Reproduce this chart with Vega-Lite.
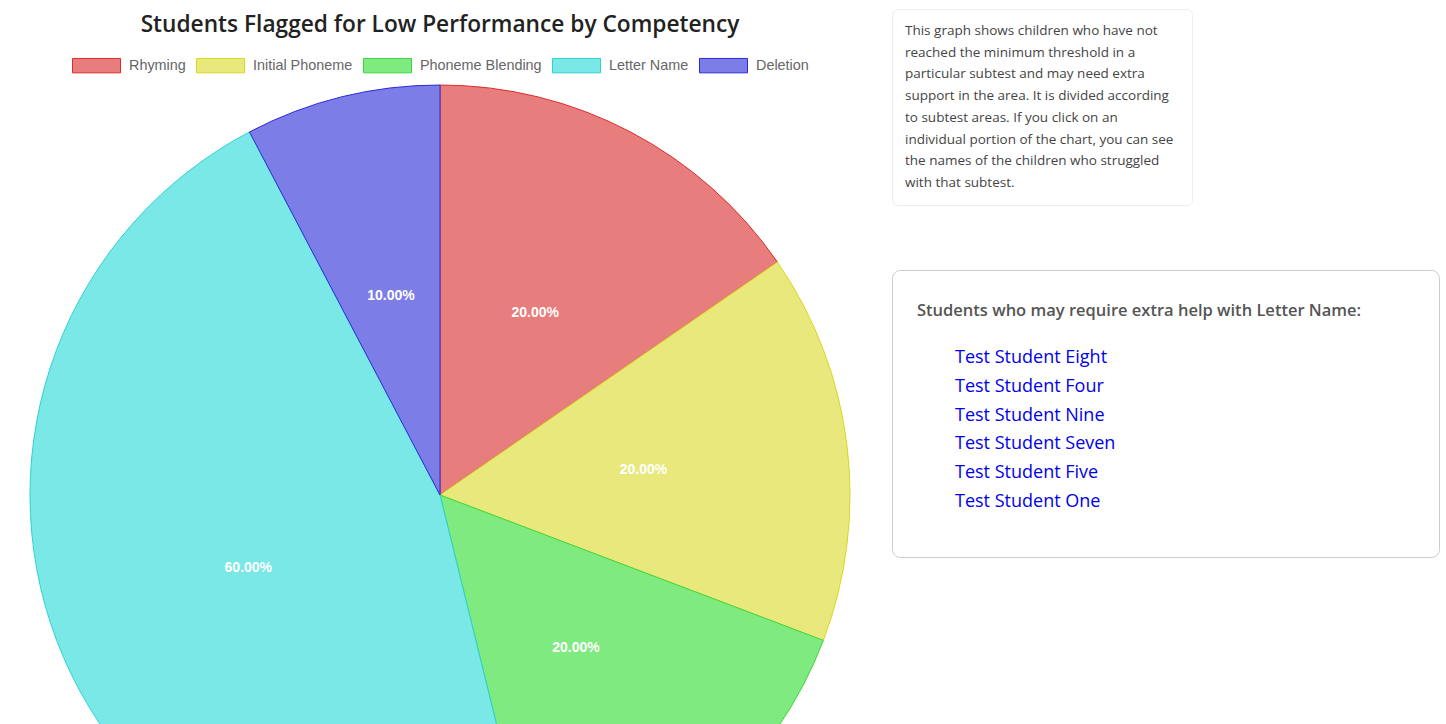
{
  "$schema": "https://vega.github.io/schema/vega-lite/v6.json",
  "padding": {"left": 28, "top": 8, "right": 0, "bottom": 0},
  "background": "white",
  "config": {"view": {"stroke": null}, "concat": {"spacing": 39}},
  "datasets": {
    "competencies": [
      {"competency": "Rhyming", "share": 0.2, "order": 1},
      {"competency": "Initial Phoneme", "share": 0.2, "order": 2},
      {"competency": "Phoneme Blending", "share": 0.2, "order": 3},
      {"competency": "Letter Name", "share": 0.6, "order": 4},
      {"competency": "Deletion", "share": 0.1, "order": 5}
    ],
    "description": [
      {"line": 1, "text": "This graph shows children who have not"},
      {"line": 2, "text": "reached the minimum threshold in a"},
      {"line": 3, "text": "particular subtest and may need extra"},
      {"line": 4, "text": "support in the area. It is divided according"},
      {"line": 5, "text": "to subtest areas. If you click on an"},
      {"line": 6, "text": "individual portion of the chart, you can see"},
      {"line": 7, "text": "the names of the children who struggled"},
      {"line": 8, "text": "with that subtest."}
    ],
    "students": [
      {"name": "Test Student Eight"},
      {"name": "Test Student Four"},
      {"name": "Test Student Nine"},
      {"name": "Test Student Seven"},
      {"name": "Test Student Five"},
      {"name": "Test Student One"}
    ],
    "header": [
      {"text": "Students who may require extra help with Letter Name:"}
    ]
  },
  "hconcat": [
    {
      "width": 820,
      "height": 972,
      "title": {
        "text": "Students Flagged for Low Performance by Competency",
        "font": "Open Sans",
        "fontSize": 22.7,
        "fontWeight": 600,
        "color": "#222222",
        "anchor": "middle",
        "offset": -28
      },
      "data": {"name": "competencies"},
      "layer": [
        {
          "mark": {"type": "arc", "strokeWidth": 1, "radius": 410},
          "encoding": {
            "theta": {"field": "share", "type": "quantitative", "stack": true},
            "order": {"field": "order", "type": "quantitative"},
            "color": {
              "field": "competency",
              "type": "nominal",
              "sort": ["Rhyming", "Initial Phoneme", "Phoneme Blending", "Letter Name", "Deletion"],
              "scale": {
                "domain": ["Rhyming", "Initial Phoneme", "Phoneme Blending", "Letter Name", "Deletion"],
                "range": ["#E77D7C", "#E8E87C", "#7EEA7F", "#7AE8E6", "#7D7DE7"]
              },
              "legend": {
                "orient": "none",
                "legendX": 42,
                "legendY": 32,
                "direction": "horizontal",
                "title": null,
                "symbolType": "M-1,-0.3H1V0.3H-1Z",
                "symbolSize": 2304,
                "symbolStrokeWidth": 1,
                "symbolOpacity": 1,
                "labelFont": "Liberation Sans",
                "labelFontSize": 14.4,
                "labelColor": "#666666",
                "labelOffset": 8,
                "columnPadding": 8
              }
            },
            "stroke": {
              "field": "competency",
              "type": "nominal",
              "sort": ["Rhyming", "Initial Phoneme", "Phoneme Blending", "Letter Name", "Deletion"],
              "scale": {
                "domain": ["Rhyming", "Initial Phoneme", "Phoneme Blending", "Letter Name", "Deletion"],
                "range": ["#DD2C2C", "#D8D81E", "#3DD63D", "#2CD3D3", "#2B2BD8"]
              },
              "legend": {
                "orient": "none",
                "legendX": 42,
                "legendY": 32,
                "direction": "horizontal",
                "title": null,
                "symbolType": "M-1,-0.3H1V0.3H-1Z",
                "symbolSize": 2304,
                "symbolStrokeWidth": 1,
                "labelFont": "Liberation Sans",
                "labelFontSize": 14.4,
                "labelColor": "#666666",
                "labelOffset": 8,
                "columnPadding": 8
              }
            }
          }
        },
        {
          "mark": {
            "type": "text",
            "radius": 205,
            "font": "Liberation Sans",
            "fontWeight": "bold",
            "fontSize": 14,
            "fill": "white"
          },
          "encoding": {
            "theta": {"field": "share", "type": "quantitative", "stack": true},
            "order": {"field": "order", "type": "quantitative"},
            "text": {"field": "share", "type": "quantitative", "format": ".2%"}
          }
        }
      ]
    },
    {
      "spacing": 63,
      "vconcat": [
        {
          "width": 300,
          "height": 196,
          "view": {"fill": "white", "stroke": "#ececec", "cornerRadius": 6},
          "data": {"name": "description"},
          "mark": {
            "type": "text",
            "align": "left",
            "baseline": "middle",
            "font": "Open Sans",
            "fontSize": 13.5,
            "fill": "#444444"
          },
          "encoding": {
            "x": {"value": 13},
            "y": {
              "field": "line",
              "type": "ordinal",
              "axis": null,
              "scale": {"type": "point", "padding": 1.04}
            },
            "text": {"field": "text"}
          }
        },
        {
          "width": 547,
          "height": 287,
          "view": {"fill": "white", "stroke": "#cccccc", "cornerRadius": 8},
          "layer": [
            {
              "data": {"name": "header"},
              "mark": {
                "type": "text",
                "align": "left",
                "baseline": "middle",
                "font": "Open Sans",
                "fontSize": 16.5,
                "fontWeight": 600,
                "fill": "#555555"
              },
              "encoding": {
                "x": {"value": 25},
                "y": {"value": 41},
                "text": {"field": "text"}
              }
            },
            {
              "data": {"name": "students"},
              "mark": {
                "type": "text",
                "align": "left",
                "baseline": "middle",
                "font": "Open Sans",
                "fontSize": 18,
                "fill": "#0000EE"
              },
              "encoding": {
                "x": {"value": 63},
                "y": {
                  "field": "name",
                  "type": "ordinal",
                  "sort": null,
                  "axis": null,
                  "scale": {"type": "point", "range": [88, 232], "padding": 0}
                },
                "text": {"field": "name"}
              }
            }
          ]
        }
      ]
    }
  ]
}
